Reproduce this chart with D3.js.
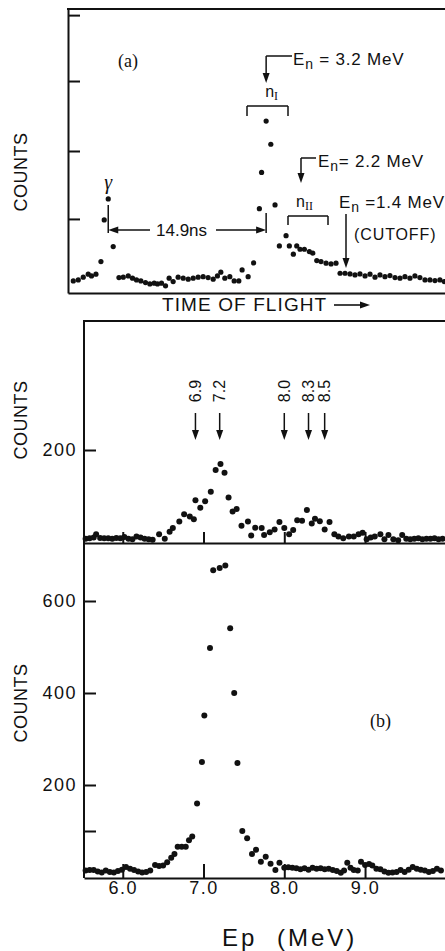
<!DOCTYPE html>
<html>
<head>
<meta charset="utf-8">
<script src="https://cdn.jsdelivr.net/npm/d3@7"></script>
<style>
body { margin: 0; background: #fff; }
text { font-family: "Liberation Sans", Arial, sans-serif; fill: #111; }
.serif { font-family: "Liberation Serif", "Times New Roman", serif; }
.axis path, .axis line { stroke: #111; stroke-width: 2; }
</style>
</head>
<body>
<svg width="445" height="951"></svg>
<script>
// panel (a): time of flight (ns after the gamma flash) and counts (arbitrary units)
var tofTime = [-3.30, -2.83, -2.36, -1.89, -1.58, -1.16, -0.69, -0.38, 0.00, 0.47,
    1.01, 1.42, 1.89, 2.29, 2.67, 3.08, 3.52, 3.93, 4.34, 4.65, 5.03, 5.41, 5.75, 6.13,
    6.60, 7.08, 7.55, 8.02, 8.49, 8.96, 9.43, 9.91, 10.31, 10.63, 11.01, 11.48, 11.89,
    12.33, 12.64, 13.21, 13.73, 14.27, 14.48, 14.91, 15.35, 15.75, 16.16, 16.79, 17.10,
    17.48, 17.80, 18.11, 18.52, 18.99, 19.31, 19.69, 20.09, 20.57, 21.04, 21.51, 21.89,
    22.36, 22.83, 23.30, 23.77, 24.25, 24.72, 25.19, 25.66, 26.13, 26.60, 27.08, 27.55,
    28.02, 28.49, 28.96, 29.43, 29.91, 30.38, 30.85, 31.32, 31.73];
var tofCounts = [88, 103, 143, 187, 162, 187, 372, 985, 1294, 593,
    137, 143, 162, 128, 103, 88, 63, 44, 54, 44, 54, 15, 128, 78,
    143, 128, 113, 128, 143, 151, 137, 113, 162, 216, 128, 151, 88,
    88, 250, 151, 353, 1151, 1684, 2441, 2099, 1206, 603, 754, 603,
    481, 603, 554, 554, 519, 496, 387, 372, 349, 338, 349, 201,
    201, 191, 176, 191, 162, 187, 143, 176, 151, 166, 137, 128,
    151, 128, 162, 137, 103, 103, 93, 103, 78];
var tofTicks = [1000, 2000, 3030, 4000];

// upper Ep panel
var epMid = [5.54, 5.59, 5.64, 5.67, 5.72, 5.77, 5.82, 5.87, 5.92, 5.97, 6.02, 6.07,
    6.12, 6.17, 6.22, 6.27, 6.32, 6.37, 6.45, 6.52, 6.58, 6.62, 6.70, 6.76, 6.83, 6.88,
    6.90, 6.96, 7.02, 7.09, 7.15, 7.21, 7.26, 7.31, 7.36, 7.41, 7.47, 7.55, 7.59, 7.64,
    7.72, 7.75, 7.82, 7.88, 7.94, 8.00, 8.06, 8.11, 8.16, 8.22, 8.28, 8.34, 8.38, 8.44,
    8.50, 8.56, 8.62, 8.67, 8.73, 8.80, 8.86, 8.92, 8.97, 9.02, 9.07, 9.12, 9.19, 9.24,
    9.29, 9.35, 9.41, 9.46, 9.51, 9.56, 9.61, 9.66, 9.71, 9.76, 9.81, 9.86, 9.91, 9.96];
var cntMid = [9, 10, 12, 19, 11, 10, 10, 9, 11, 10, 13, 9,
    8, 14, 12, 9, 8, 7, 19, 9, 24, 32, 46, 62, 57, 51,
    92, 76, 90, 110, 157, 170, 151, 98, 68, 73, 37, 46, 16, 33,
    32, 17, 23, 29, 45, 32, 19, 28, 49, 48, 71, 42, 52, 47,
    29, 45, 19, 14, 10, 14, 14, 19, 22, 8, 12, 14, 19, 8,
    17, 8, 6, 17, 9, 8, 9, 10, 8, 9, 9, 10, 8, 9];

// lower Ep panel (b)
var epBot = [5.54, 5.59, 5.64, 5.69, 5.74, 5.79, 5.84, 5.89, 5.94, 5.99, 6.04, 6.09,
    6.14, 6.19, 6.24, 6.29, 6.34, 6.40, 6.45, 6.50, 6.55, 6.60, 6.64, 6.68, 6.73, 6.78,
    6.82, 6.86, 6.92, 6.98, 7.01, 7.08, 7.12, 7.20, 7.27, 7.33, 7.38, 7.42, 7.48, 7.54,
    7.60, 7.65, 7.71, 7.77, 7.83, 7.89, 7.94, 8.00, 8.05, 8.10, 8.15, 8.20, 8.25, 8.30,
    8.35, 8.40, 8.45, 8.50, 8.55, 8.60, 8.65, 8.70, 8.74, 8.78, 8.82, 8.86, 8.91, 8.95,
    9.00, 9.05, 9.09, 9.14, 9.19, 9.24, 9.29, 9.34, 9.39, 9.44, 9.49, 9.54, 9.59, 9.64,
    9.69, 9.74, 9.79, 9.84, 9.89, 9.94];
var cntBot = [14, 15, 15, 12, 10, 14, 11, 10, 13, 16, 22, 18,
    15, 12, 10, 11, 14, 26, 24, 25, 32, 42, 50, 66, 66, 66,
    80, 88, 160, 250, 351, 498, 667, 672, 677, 541, 400, 248, 100, 84,
    50, 59, 33, 44, 29, 15, 31, 20, 21, 20, 19, 17, 19, 16,
    20, 18, 19, 17, 18, 15, 13, 9, 14, 31, 20, 15, 14, 33,
    26, 28, 25, 18, 17, 12, 9, 10, 11, 15, 11, 16, 22, 18,
    16, 14, 11, 13, 18, 14];

var epTicks = [6, 7, 8, 9];
var epTickLabels = ["6.0", "7.0", "8.0", "9.0"];
var midYTicks = [200];
var botYTicks = [100, 200, 400, 600];
var levels = [6.9, 7.2, 8.0, 8.3, 8.5];
var levelLabels = ["6.9", "7.2", "8.0", "8.3", "8.5"];

var svg = d3.select("svg");
svg.append("rect").attr("width", 445).attr("height", 951).attr("fill", "#fff");

// ---------- panel (a) ----------
var tScale = d3.scaleLinear().domain([-3.8, 31.8]).range([68, 445]);
var tofY = d3.scaleLinear().domain([-90, 4090]).range([293, 9]);

var tofYAxis = d3.axisLeft(tofY).tickValues(tofTicks).tickSizeInner(-12).tickSizeOuter(0).tickFormat("");
svg.append("g").attr("class", "axis").attr("transform", "translate(68,0)").call(tofYAxis);
var tofXAxis = d3.axisBottom(tScale).ticks(0).tickSizeOuter(0);
svg.append("g").attr("class", "axis").attr("transform", "translate(0,293)").call(tofXAxis);
svg.append("line").attr("x1", 67).attr("x2", 445).attr("y1", 9).attr("y2", 9)
    .attr("stroke", "#111").attr("stroke-width", 2);

svg.selectAll("circle.tof").data(tofTime).enter().append("circle").attr("class", "tof")
    .attr("r", 2.6)
    .attr("cx", function (d) { return tScale(d) })
    .attr("cy", function (d, i) { return tofY(tofCounts[i]) })
    .style("fill", "#111");

function line(x1, y1, x2, y2, w) {
    svg.append("line").attr("x1", x1).attr("y1", y1).attr("x2", x2).attr("y2", y2)
        .attr("stroke", "#111").attr("stroke-width", w || 1.5);
}
function head(x, y, dir) {
    // filled arrow head, tip at (x,y)
    var p;
    if (dir == "down") p = [[x, y], [x - 3.5, y - 10], [x + 3.5, y - 10]];
    if (dir == "left") p = [[x, y], [x + 10, y - 3.5], [x + 10, y + 3.5]];
    if (dir == "right") p = [[x, y], [x - 10, y - 3.5], [x - 10, y + 3.5]];
    svg.append("path").attr("d", "M" + p.join("L") + "Z").attr("fill", "#111");
}
function enLabel(x, y, rest) {
    var t = svg.append("text").attr("x", x).attr("y", y).style("font-size", "17px").style("letter-spacing", "0.8px");
    t.append("tspan").text("E");
    t.append("tspan").attr("dy", 4).style("font-size", "14px").text("n");
    t.append("tspan").attr("dy", -4).text(rest);
}

svg.append("text").attr("class", "serif").attr("x", 118).attr("y", 67).style("font-size", "18px").text("(a)");

// nI peak, 3.2 MeV
var xI = tScale(14.91);
line(xI, 56, 292, 56);
line(xI, 56, xI, 75);
head(xI, 83, "down");
enLabel(293, 65, " = 3.2  MeV");
var nI = svg.append("text").attr("x", xI - 1).attr("y", 97).style("font-size", "16px");
nI.append("tspan").text("n");
nI.append("tspan").attr("class", "serif").attr("dy", 3).style("font-size", "12px").text("I");
line(247, 106, 288, 106); line(247, 106, 247, 116); line(288, 106, 288, 116);

// 2.2 MeV
line(301, 158, 316, 158);
line(301, 158, 301, 175);
head(301, 183, "down");
enLabel(318, 167, "= 2.2  MeV");
var nII = svg.append("text").attr("x", 296).attr("y", 207).style("font-size", "16px");
nII.append("tspan").text("n");
nII.append("tspan").attr("class", "serif").attr("dy", 3).style("font-size", "12px").text("II");
line(288, 216, 328, 216); line(288, 216, 288, 225); line(328, 216, 328, 225);

// 1.4 MeV cutoff
enLabel(339, 208, " =1.4 MeV");
line(346, 214, 346, 260);
head(346, 268, "down");
svg.append("text").attr("x", 354).attr("y", 240).style("font-size", "16px").style("letter-spacing", "0.9px").text("(CUTOFF)");

// gamma and 14.9 ns
var xG = tScale(0);
svg.append("text").attr("class", "serif").attr("x", xG).attr("y", 189).attr("text-anchor", "middle")
    .style("font-size", "20px").style("font-style", "italic").text("γ");
line(xG, 205, xG, 233);
line(xG + 8, 230, 150, 230);
head(xG, 230, "left");
svg.append("text").attr("x", 156).attr("y", 236).style("font-size", "17px").text("14.9ns");
line(216, 230, xI - 8, 230);
head(xI, 230, "right");
line(xI, 213, xI, 233);

svg.append("text").attr("transform", "translate(27,172) rotate(-90)").attr("text-anchor", "middle")
    .style("font-size", "18px").style("letter-spacing", "0.5px").text("COUNTS");
svg.append("text").attr("x", 162).attr("y", 311).style("font-size", "19px").style("letter-spacing", "1.1px").text("TIME OF FLIGHT");
line(334, 305, 362, 305, 1.6);
head(370, 305, "right");

// ---------- Ep panels ----------
var xE = d3.scaleLinear().domain([5.52, 9.99]).range([84, 445]);
var yMid = d3.scaleLinear().domain([0, 200]).range([543, 450]);
var yBot = d3.scaleLinear().domain([0, 200]).range([877, 785]);

svg.append("line").attr("x1", 83).attr("x2", 445).attr("y1", 321).attr("y2", 321)
    .attr("stroke", "#111").attr("stroke-width", 2);
svg.append("line").attr("x1", 84).attr("x2", 84).attr("y1", 321).attr("y2", 878)
    .attr("stroke", "#111").attr("stroke-width", 2);

var midX = d3.axisBottom(xE).tickValues(epTicks).tickSizeInner(-11).tickSizeOuter(0).tickFormat("");
svg.append("g").attr("class", "axis").attr("transform", "translate(0,543)").call(midX);
var midY = d3.axisLeft(yMid).tickValues(midYTicks).tickSizeInner(-12).tickSizeOuter(0).tickPadding(7);
svg.append("g").attr("class", "axis").attr("transform", "translate(84,0)").call(midY);

var botX = d3.axisBottom(xE).tickValues(epTicks).tickSizeInner(-14).tickSizeOuter(0).tickPadding(3)
    .tickFormat(function (d, i) { return epTickLabels[i] });
svg.append("g").attr("class", "axis").attr("transform", "translate(0,878)").call(botX);
var botY = d3.axisLeft(yBot).tickValues(botYTicks).tickSizeInner(-12).tickSizeOuter(0).tickPadding(7)
    .tickFormat(function (d) { return d == 100 ? "" : d });
svg.append("g").attr("class", "axis").attr("transform", "translate(84,0)").call(botY);

svg.selectAll(".axis path.domain").filter(function () { return this.parentNode.getAttribute("transform") == "translate(84,0)" }).remove();
svg.selectAll(".axis text").style("font-size", "18px").style("letter-spacing", "1.5px")
    .style("font-family", "'Liberation Sans', Arial, sans-serif").attr("fill", "#111");
svg.selectAll(".axis .tick line").attr("stroke-width", 1.6);

svg.selectAll("circle.mid").data(epMid).enter().append("circle").attr("class", "mid")
    .attr("r", 3)
    .attr("cx", function (d) { return xE(d) })
    .attr("cy", function (d, i) { return yMid(cntMid[i]) })
    .style("fill", "#111");
svg.selectAll("circle.bot").data(epBot).enter().append("circle").attr("class", "bot")
    .attr("r", 3)
    .attr("cx", function (d) { return xE(d) })
    .attr("cy", function (d, i) { return yBot(cntBot[i]) })
    .style("fill", "#111");

// level arrows
levels.forEach(function (e, i) {
    var x = xE(e);
    line(x, 413, x, 432);
    head(x, 440, "down");
    svg.append("text").attr("transform", "translate(" + (x + 5.5) + ",391) rotate(-90)")
        .attr("text-anchor", "middle").style("font-size", "16px").text(levelLabels[i]);
});

svg.append("text").attr("class", "serif").attr("x", 370).attr("y", 727).style("font-size", "18px").text("(b)");
svg.append("text").attr("transform", "translate(27,420) rotate(-90)").attr("text-anchor", "middle")
    .style("font-size", "18px").style("letter-spacing", "0.5px").text("COUNTS");
svg.append("text").attr("transform", "translate(27,703) rotate(-90)").attr("text-anchor", "middle")
    .style("font-size", "18px").style("letter-spacing", "0.5px").text("COUNTS");
svg.append("text").attr("x", 222).attr("y", 946).style("font-size", "24px").style("letter-spacing", "3px")
    .style("word-spacing", "10px").text("Ep (MeV)");
</script>
</body>
</html>
